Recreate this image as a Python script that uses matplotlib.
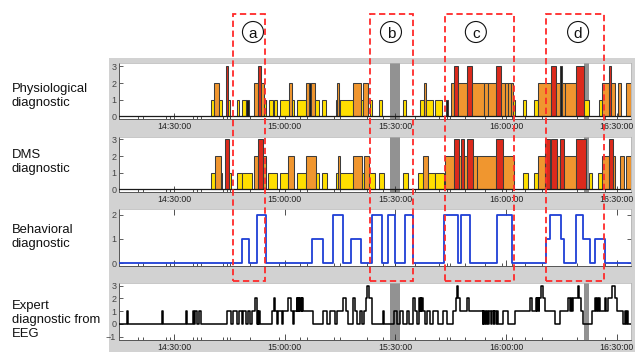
import matplotlib.pyplot as plt
import matplotlib.patches as mpatches
from matplotlib.ticker import FuncFormatter
from matplotlib.transforms import blended_transform_factory

plt.rcParams['font.family'] = ['Liberation Sans', 'DejaVu Sans']

# all times are minutes after 14:00:00
t_min, t_max = 15.1, 153.84
major_times = [30, 60, 90, 120, 150]
marker_times = [20.33, 21.68, 27.75, 28.92, 35.07, 36.31, 37.32, 43.36, 44.28, 45.18,
                50.60, 58.46, 64.15, 66.12, 73.36, 74.99, 82.22, 86.56, 89.89, 95.31,
                101.82, 103.90, 104.80, 108.86, 114.28, 118.97, 121.52, 125.12, 129.65,
                139.13, 146.80]

# periods without signal (grey bands)
gap_start = [88.54, 141.11]
gap_end = [91.25, 142.47]

# physiological diagnostic: level 1 = yellow, 2 = orange, 3 = red
phys_start = [39.95, 40.92, 42.20, 44.01, 44.72, 46.99, 48.51, 49.51, 51.60, 52.68, 53.50, 54.39,
              55.83, 57.02, 58.81, 61.08, 62.06, 63.33, 65.69, 66.59, 67.05, 68.21, 70.19, 73.82,
              74.18, 74.58, 74.99, 78.58, 80.60, 81.30, 83.12, 85.64, 92.14, 96.75, 97.83, 98.29,
              100.73, 103.63, 105.07, 105.88, 107.05, 109.32, 110.84, 114.00, 115.20, 117.34,
              118.62, 119.80, 120.50, 121.30, 121.87, 124.58, 127.48, 128.56, 132.17, 133.52,
              134.69, 135.07, 135.88, 139.02, 141.19, 145.10, 145.99, 147.80, 148.43, 150.33, 152.57]
phys_end = [40.92, 42.20, 42.93, 44.72, 45.18, 47.70, 49.51, 50.41, 52.68, 53.50, 54.39, 54.93,
            56.83, 57.83, 61.08, 62.06, 62.60, 65.69, 66.59, 67.05, 68.21, 69.21, 71.11, 74.18,
            74.58, 74.99, 78.58, 80.60, 81.30, 82.49, 83.74, 86.29, 92.87, 97.83, 98.29, 100.27,
            102.71, 104.17, 105.88, 107.05, 109.32, 110.84, 114.00, 115.20, 117.34, 118.62,
            119.80, 120.50, 121.30, 121.87, 122.49, 125.47, 128.56, 132.17, 133.52, 134.69,
            135.07, 135.88, 139.02, 141.19, 142.38, 145.99, 147.80, 148.43, 149.59, 151.22, 153.84]
phys_level = [1, 2, 1, 3, 1, 1, 1, 1, 2, 3, 2, 1, 1, 1, 1, 2, 1, 1, 2, 2, 2, 1, 1, 1, 2, 1, 1,
              2, 1, 2, 1, 1, 1, 1, 2, 1, 1, 1, 2, 3, 2, 3, 2, 2, 2, 3, 2, 2, 2, 2, 1, 1, 1, 2,
              3, 2, 3, 2, 2, 3, 1, 1, 2, 3, 2, 2, 2]
phys_dark = [49.51, 66.59, 74.58, 103.63, 134.69]

# DMS diagnostic
dms_start = [39.95, 41.11, 42.66, 43.82, 44.91, 47.15, 48.35, 51.60, 52.68, 54.04, 55.56, 58.81,
             60.98, 63.33, 65.77, 68.48, 70.03, 73.90, 74.31, 74.99, 78.58, 81.03, 81.49, 82.93,
             85.64, 92.14, 96.21, 97.56, 98.75, 100.73, 103.44, 105.80, 107.32, 107.78, 108.67,
             109.32, 111.11, 112.03, 117.34, 119.16, 124.58, 127.48, 128.56, 130.62, 131.98,
             132.17, 133.79, 134.69, 135.61, 139.02, 142.38, 144.90, 145.99, 147.80, 148.97,
             150.79, 152.57]
dms_end = [41.11, 42.66, 43.09, 44.91, 45.45, 48.35, 51.06, 52.68, 54.04, 54.93, 57.83, 60.98,
           62.52, 65.77, 68.48, 69.38, 71.54, 74.31, 74.99, 78.58, 81.03, 81.49, 82.93, 84.47,
           86.91, 93.33, 97.56, 98.75, 100.73, 103.25, 105.80, 107.32, 107.78, 108.67, 109.32,
           111.11, 112.03, 117.34, 119.16, 122.06, 125.85, 128.56, 130.62, 131.98, 132.17,
           133.79, 134.69, 135.61, 139.02, 141.65, 143.20, 145.99, 147.80, 148.97, 149.51,
           151.87, 153.84]
dms_level = [1, 2, 1, 3, 1, 1, 1, 2, 3, 2, 1, 1, 2, 1, 2, 1, 1, 1, 2, 1, 2, 1, 2, 1, 1, 1, 1,
             2, 1, 1, 2, 3, 2, 3, 2, 3, 2, 2, 3, 2, 1, 1, 2, 3, 2, 3, 2, 3, 2, 3, 1, 1, 2, 3,
             2, 2, 2]

# behavioral diagnostic (step changes: time, value)
behav_steps = [(15.1, 0), (48.35, 1), (50.33, 0), (52.57, 2), (54.85, 0), (67.32, 1), (70.30, 0),
               (73.01, 2), (75.72, 0), (77.89, 1), (80.68, 0), (83.58, 2), (86.29, 0), (88.08, 2),
               (89.89, 0), (92.60, 2), (94.69, 0), (103.17, 2), (107.05, 0), (107.70, 2),
               (110.22, 0), (117.45, 2), (121.68, 0), (130.73, 1), (131.90, 2), (134.80, 1),
               (135.69, 0), (138.94, 2), (140.92, 1), (142.74, 0), (144.09, 1), (146.80, 0),
               (153.84, 0)]

# expert diagnostic from EEG (step changes: time, value)
eeg_steps = [(15.1, 0), (17.18, 1), (17.62, 0), (26.67, 1), (26.94, 0), (33.17, 1), (33.60, 0),
             (35.07, 1), (35.50, 0), (35.69, 1), (36.15, 0), (36.86, 1), (37.32, 0), (44.44, 1),
             (45.37, 0), (46.07, 1), (46.99, 0), (47.70, 1), (48.35, 0), (48.78, 1), (49.51, 0),
             (50.14, 1), (50.60, 0), (51.06, 1), (51.95, 2), (52.41, 1), (52.60, 0), (52.75, 1),
             (52.90, 0), (53.05, 1), (53.31, 0), (56.48, 1), (57.10, 2), (57.45, 1), (58.00, 0),
             (58.30, 1), (59.20, 0), (59.50, 1), (60.98, 2), (61.63, 1), (62.30, 0), (62.50, 1),
             (63.25, 2), (63.45, 1), (63.60, 2), (63.80, 1), (64.00, 2), (64.20, 1), (64.35, 2),
             (64.60, 1), (64.75, 2), (65.04, 1), (67.75, 0), (70.30, 1), (71.38, 0), (72.28, 1),
             (73.63, 0), (74.09, 1), (75.72, 2), (76.61, 1), (77.24, 0), (78.43, 2), (79.05, 1),
             (79.51, 0), (80.41, 1), (80.87, 0), (81.49, 1), (82.03, 2), (82.38, 3), (82.93, 2),
             (83.58, 0), (86.56, 1), (86.91, 0), (89.62, 1), (90.35, 0), (91.25, 1), (91.98, 0),
             (93.06, 1), (93.77, 0), (94.69, 2), (95.31, 1), (95.77, 0), (96.40, 2), (96.60, 1),
             (96.80, 2), (97.00, 1), (97.20, 2), (97.56, 1), (98.02, 0), (98.48, 1), (99.38, 0),
             (100.27, 1), (101.63, 0), (102.98, 1), (103.90, 0), (105.69, 1), (106.34, 2),
             (106.61, 3), (107.05, 2), (107.51, 1), (109.32, 2), (109.95, 1), (113.60, 0),
             (113.80, 1), (114.10, 0), (114.30, 1), (114.60, 0), (114.80, 1), (115.20, 0),
             (115.40, 1), (115.90, 0), (116.10, 1), (116.60, 0), (116.80, 1), (117.20, 0),
             (117.40, 1), (117.89, 0), (119.24, 1), (120.60, 0), (122.41, 1), (126.48, 2),
             (127.10, 1), (128.02, 2), (128.30, 1), (128.50, 2), (128.80, 1), (129.00, 2),
             (129.46, 3), (129.92, 2), (130.54, 1), (133.25, 0), (134.61, 1), (136.86, 2),
             (137.20, 1), (137.50, 2), (137.80, 1), (138.10, 2), (139.40, 3), (139.84, 2),
             (140.30, 1), (140.92, 0), (143.20, 1), (144.09, 2), (144.40, 1), (144.60, 2),
             (144.90, 1), (145.10, 2), (145.45, 1), (146.80, 2), (147.20, 1), (147.50, 2),
             (148.62, 3), (149.51, 2), (149.97, 1), (151.76, 0), (152.22, 1), (152.50, 0),
             (152.70, 1), (153.12, 0), (153.84, 0)]

# highlighted episodes a-d
episode_names = ['a', 'b', 'c', 'd']
episode_start = [46.08, 83.12, 103.44, 130.85]
episode_end = [54.75, 94.77, 122.14, 146.56]
episode_mark = [51.4, 88.8, 111.8, 139.5]

level_colors = {1: '#ffdf00', 2: '#f0962f', 3: '#dc2a1c'}

W, H = 635, 352
fig = plt.figure(figsize=(W / 100, H / 100), dpi=100)
fig.add_artist(mpatches.Rectangle((109 / W, 0), 1 - 109 / W, 1 - 58 / H, transform=fig.transFigure,
                                  facecolor='#d2d2d2', edgecolor='none', zorder=-5))


def time_label(v, pos):
    return '%d:%02d:00' % (14 + int(v // 60), int(round(v)) % 60)


def make_panel(top, bottom, ylo, yhi, yticks, xlabels=True, gaps=True):
    ax = fig.add_axes([119 / W, 1 - bottom / H, (631 - 119) / W, (bottom - top) / H])
    ax.set_facecolor('white')
    ax.set_xlim(t_min, t_max)
    ax.set_ylim(ylo, yhi)
    ax.set_yticks(yticks)
    ax.set_xticks(major_times)
    ax.set_xticks(marker_times, minor=True)
    ax.xaxis.set_major_formatter(FuncFormatter(time_label))
    ax.tick_params(axis='x', which='major', direction='in', length=4, width=0.6, color='#333333',
                   labelsize=6.3, labelcolor='#222222', pad=2.5, labelbottom=xlabels)
    ax.tick_params(axis='x', which='minor', direction='in', length=2.5, width=0.6, color='#333333')
    ax.tick_params(axis='y', direction='in', length=3, width=0.6, color='#444444',
                   labelsize=6.5, labelcolor='#444444', pad=2)
    for side in ['top', 'right']:
        ax.spines[side].set_color('#b0b0b0')
        ax.spines[side].set_linewidth(0.5)
    for side in ['left', 'bottom']:
        ax.spines[side].set_color('#555555')
        ax.spines[side].set_linewidth(0.7)
    if gaps:
        for g0, g1 in zip(gap_start, gap_end):
            ax.axvspan(g0, g1, color='#929292', lw=0, zorder=0.5)
    return ax


def draw_bars(ax, starts, ends, levels, dark=()):
    for s, e, lv in zip(starts, ends, levels):
        c = '#1a1a1a' if s in dark else level_colors[lv]
        ax.bar(s, lv, width=e - s, align='edge', color=c, edgecolor='#3c3c3c',
               linewidth=0.75, zorder=2)
    ax.axhline(0, color='#1a1a1a', lw=0.9, zorder=3)


ax1 = make_panel(63.3, 119, -0.15, 3.18, [0, 1, 2, 3])
draw_bars(ax1, phys_start, phys_end, phys_level, phys_dark)

ax2 = make_panel(136.5, 191.5, -0.13, 3.17, [0, 1, 2, 3])
draw_bars(ax2, dms_start, dms_end, dms_level)

ax3 = make_panel(209, 266, -0.12, 2.23, [0, 1, 2], xlabels=False, gaps=False)
ax3.tick_params(axis='x', which='major', top=True)
ax3.tick_params(axis='y', right=True)
ax3.plot([p[0] for p in behav_steps], [p[1] for p in behav_steps], drawstyle='steps-post',
         color='#1f3fd6', lw=1.3, zorder=3)

ax4 = make_panel(283.3, 340, -1.26, 3.19, [-1, 0, 1, 2, 3])
ax4.plot([p[0] for p in eeg_steps], [p[1] for p in eeg_steps], drawstyle='steps-post',
         color='black', lw=1.1, zorder=3)

# left labels
label_font = dict(fontsize=9.4, ha='left', va='center', linespacing=1.22, color='#111111')
fig.text(12 / W, 1 - 96 / H, 'Physiological\ndiagnostic', **label_font)
fig.text(12 / W, 1 - 162 / H, 'DMS\ndiagnostic', **label_font)
fig.text(12 / W, 1 - 237 / H, 'Behavioral\ndiagnostic', **label_font)
fig.text(12 / W, 1 - 320 / H, 'Expert\ndiagnostic from\nEEG', **label_font)

# dashed episode boxes with circled letters
trans = blended_transform_factory(ax1.transData, fig.transFigure)
px_per_min = (631 - 119) / (t_max - t_min)
for name, s, e, m in zip(episode_names, episode_start, episode_end, episode_mark):
    box = mpatches.Rectangle((s, 1 - 281 / H), e - s, (281 - 14) / H, transform=trans, fill=False,
                             edgecolor='#ff2a2a', lw=1.3, linestyle=(0, (3.5, 2)), zorder=10)
    fig.add_artist(box)
    circ = mpatches.Ellipse((m, 1 - 32 / H), 21 / px_per_min, 21 / H, transform=trans,
                            facecolor='white', edgecolor='#111111', lw=0.8, zorder=11)
    fig.add_artist(circ)
    fig.text(m, 1 - 32 / H, name, transform=trans, fontsize=11, ha='center',
             va='center_baseline', zorder=12, color='#111111')

fig.savefig('out.png', dpi=100)
